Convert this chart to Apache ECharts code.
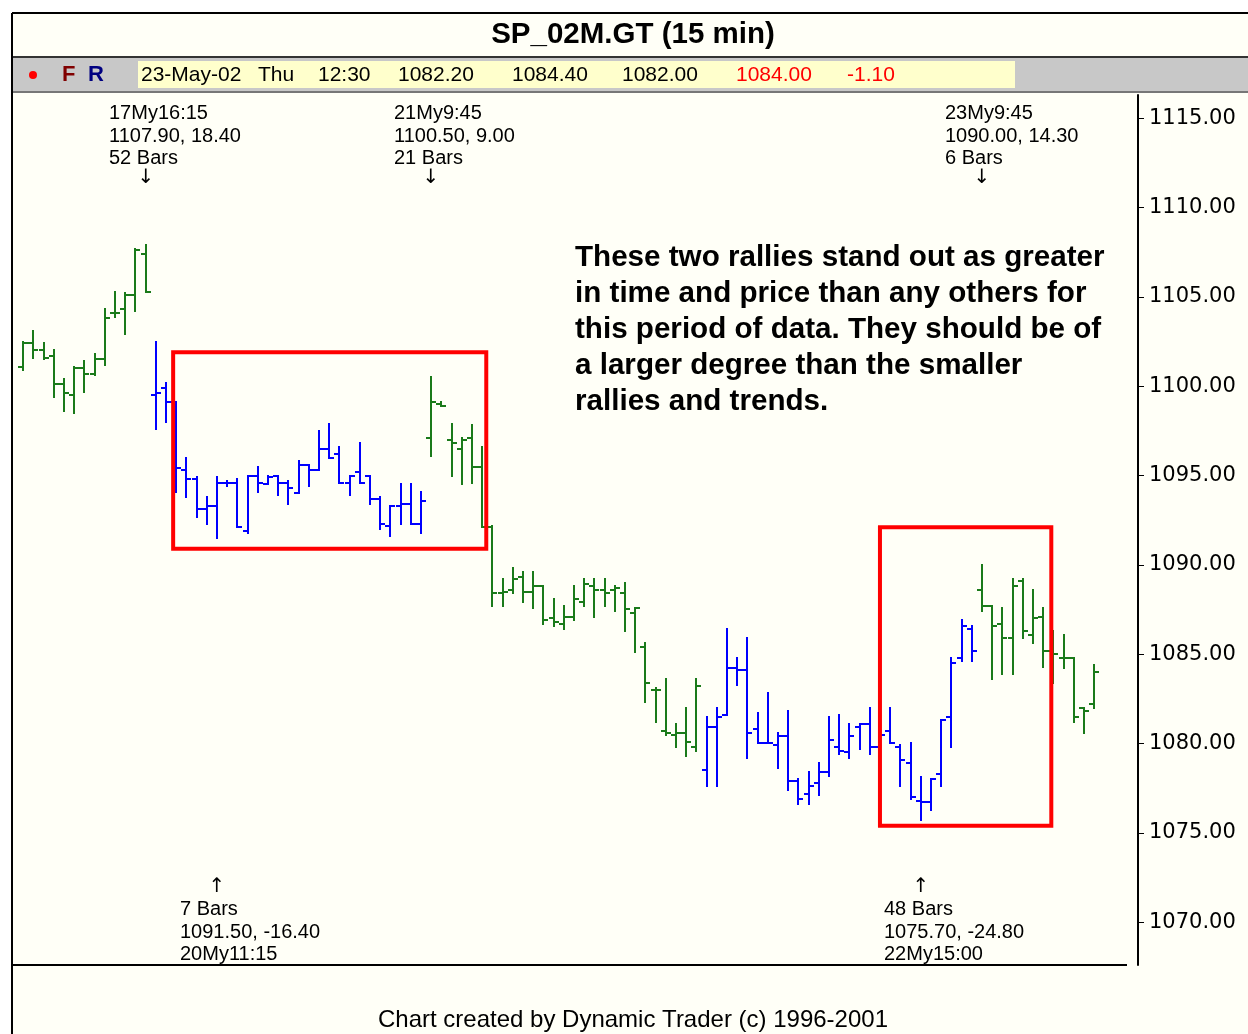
<!DOCTYPE html>
<html lang="en">
<head>
	<meta charset="UTF-8">
	<title>SP_02M.GT (15 min)</title>
	<script src="https://cdn.jsdelivr.net/npm/echarts@6/dist/echarts.min.js"></script>
</head>
<style>
	html, body{ margin: 0; padding: 0; background: #fff; }
	#main{ width: 1248px; height: 1034px; }
</style>
<body>
	<div id="main"></div>
	<script>
		// 15 min bars, 17My 13:00 .. 23My 12:30
		var opens = [
			1101.1, 1102.4, 1102.0, 1101.7, 1100.1, 1099.5, 1101.0, 1100.7, 1101.5, 1104.1, 1104.3, 1105.1, 1107.4,
			1099.5, 1099.9, 1099.1, 1095.3, 1094.8, 1093.1, 1093.3, 1094.6, 1094.6, 1091.9, 1095.0, 1094.5, 1095.0, 1094.6,
			1094.0, 1095.6, 1095.3, 1096.5, 1096.2, 1094.6, 1095.2, 1095.0, 1093.7, 1092.2, 1093.3, 1093.4, 1092.3,
			1097.1, 1099.0, 1097.0, 1096.5, 1097.1, 1095.5, 1092.1, 1088.4, 1088.6, 1089.3, 1088.5, 1088.8, 1087.0, 1086.7,
			1087.1, 1087.9, 1088.8, 1088.6, 1088.6, 1088.4, 1087.3, 1085.4, 1083.0, 1080.7, 1080.5, 1080.6, 1079.8,
			1078.5, 1080.9, 1081.6, 1084.2, 1084.1, 1080.8, 1080.0, 1079.9, 1080.4, 1077.9, 1077.2, 1077.8, 1078.4, 1079.8,
			1079.5, 1080.9, 1081.1, 1079.8, 1080.7, 1079.8, 1078.9, 1076.8, 1076.7, 1078.3, 1081.5, 1084.8, 1086.4,
			1088.6, 1087.7, 1086.7, 1085.9, 1089.1, 1086.1, 1087.1, 1085.2, 1084.8, 1084.8, 1082.0, 1082.2
		];
		var highs = [
			1102.5, 1103.1, 1102.4, 1102.0, 1100.4, 1101.1, 1101.4, 1101.8, 1104.3, 1105.3, 1105.2, 1107.7, 1107.9,
			1102.5, 1100.2, 1099.1, 1096.0, 1094.9, 1093.8, 1094.9, 1094.7, 1094.8, 1095.0, 1095.5, 1095.0, 1095.0, 1094.7,
			1095.8, 1095.6, 1097.5, 1097.9, 1096.6, 1095.0, 1096.8, 1095.0, 1093.8, 1093.3, 1094.5, 1094.5, 1094.1,
			1100.5, 1099.1, 1097.9, 1097.1, 1097.8, 1096.6, 1092.2, 1089.2, 1089.8, 1089.6, 1089.6, 1088.8, 1088.1, 1087.7,
			1088.8, 1089.2, 1089.2, 1089.2, 1088.8, 1089.0, 1087.6, 1085.6, 1083.1, 1083.6, 1081.1, 1082.0, 1083.6,
			1081.5, 1082.0, 1086.4, 1084.8, 1085.9, 1081.7, 1082.8, 1080.6, 1081.8, 1078.0, 1078.4, 1078.9, 1081.5, 1081.6,
			1081.1, 1081.1, 1082.0, 1081.0, 1082.0, 1079.9, 1080.0, 1078.1, 1078.0, 1081.3, 1084.8, 1086.9, 1086.6,
			1090.0, 1087.7, 1087.6, 1089.2, 1089.2, 1088.6, 1087.6, 1086.3, 1086.1, 1084.8, 1082.0, 1084.4
		];
		var lows = [
			1100.9, 1101.6, 1101.5, 1099.4, 1098.6, 1098.5, 1099.7, 1100.6, 1101.2, 1103.9, 1102.9, 1104.2, 1105.3,
			1097.6, 1098.0, 1094.1, 1093.8, 1092.7, 1092.3, 1091.5, 1094.4, 1092.1, 1091.8, 1094.1, 1094.5, 1093.9, 1093.4,
			1094.0, 1094.4, 1095.3, 1096.0, 1094.6, 1093.9, 1094.6, 1093.4, 1092.0, 1091.6, 1092.3, 1092.3, 1091.8,
			1096.1, 1098.9, 1095.0, 1094.5, 1094.6, 1092.1, 1087.7, 1087.7, 1088.4, 1087.9, 1087.6, 1086.7, 1086.6, 1086.4,
			1086.9, 1087.7, 1087.1, 1087.7, 1087.4, 1086.3, 1085.1, 1082.3, 1081.2, 1080.5, 1079.8, 1079.3, 1079.6,
			1077.6, 1077.6, 1081.6, 1083.3, 1079.2, 1080.0, 1080.0, 1078.6, 1077.4, 1076.6, 1076.6, 1077.1, 1078.2, 1079.4,
			1079.2, 1079.7, 1079.4, 1079.1, 1080.0, 1077.6, 1076.9, 1075.7, 1076.3, 1077.6, 1079.8, 1084.6, 1084.6,
			1087.4, 1083.6, 1083.9, 1083.9, 1085.9, 1085.6, 1084.3, 1083.4, 1084.2, 1081.2, 1080.6, 1082.0
		];
		var closes = [
			1102.4, 1102.0, 1101.6, 1100.1, 1099.6, 1101.0, 1100.7, 1101.5, 1103.8, 1104.1, 1105.1, 1107.6, 1105.3,
			1099.6, 1099.1, 1095.4, 1094.8, 1093.1, 1093.3, 1094.6, 1094.6, 1092.1, 1095.0, 1094.6, 1094.9, 1094.6, 1094.3,
			1095.6, 1095.3, 1096.5, 1096.0, 1094.6, 1095.0, 1094.6, 1093.7, 1092.3, 1093.3, 1093.4, 1092.3, 1093.6,
			1099.1, 1098.9, 1096.8, 1097.0, 1095.5, 1092.1, 1088.4, 1088.5, 1089.2, 1088.5, 1088.8, 1086.9, 1086.8, 1087.1,
			1088.1, 1088.9, 1088.6, 1088.4, 1088.7, 1087.5, 1087.6, 1083.4, 1083.0, 1080.6, 1080.6, 1080.1, 1083.2,
			1080.9, 1081.5, 1084.2, 1084.1, 1080.6, 1080.0, 1080.0, 1080.4, 1077.9, 1076.9, 1077.6, 1078.4, 1080.2, 1079.6,
			1080.4, 1081.1, 1079.8, 1080.5, 1080.0, 1079.1, 1077.0, 1076.7, 1078.0, 1081.3, 1084.5, 1086.6, 1085.2,
			1087.7, 1086.6, 1085.9, 1088.8, 1086.3, 1087.0, 1085.2, 1085.0, 1084.8, 1081.5, 1081.8, 1084.0
		];
		// last bar index of each session: 17My, 20My, 21My, 22My, 23My
		var dayEnds = [12, 39, 66, 93, 105];
		var dayColors = ['#1a7a1a', '#0000ff', '#1a7a1a', '#0000ff', '#1a7a1a'];

		var yTicks = [1070, 1075, 1080, 1085, 1090, 1095, 1100, 1105, 1110, 1115];

		// swing pivots: bar index, side, text lines
		var swings = [
			{ bar: 12, side: 'top', lines: ['17My16:15', '1107.90, 18.40', '52 Bars'] },
			{ bar: 40, side: 'top', lines: ['21My9:45', '1100.50, 9.00', '21 Bars'] },
			{ bar: 94, side: 'top', lines: ['23My9:45', '1090.00, 14.30', '6 Bars'] },
			{ bar: 19, side: 'bottom', lines: ['7 Bars', '1091.50, -16.40', '20My11:15'] },
			{ bar: 88, side: 'bottom', lines: ['48 Bars', '1075.70, -24.80', '22My15:00'] }
		];
		// highlighted rallies: [bar from, price top, bar to, price bottom]
		var boxes = [
			[14.7, 1101.9, 45.4, 1090.9],
			[84.0, 1092.1, 100.8, 1075.4]
		];
		var note = [
			'These two rallies stand out as greater',
			'in time and price than any others for',
			'this period of data. They should be of',
			'a larger degree than the smaller',
			'rallies and trends.'
		];

		var FONT = '"Liberation Sans", Arial, sans-serif';

		function dayColor(i) {
			for (var d = 0; d < dayEnds.length; d++) {
				if (i <= dayEnds[d]) return dayColors[d];
			}
			return dayColors[dayColors.length - 1];
		}

		var bars = opens.map(function (o, i) {
			return [i, o, highs[i], lows[i], closes[i]];
		});

		function renderOhlc(params, api) {
			var i = api.value(0);
			var pO = api.coord([i, api.value(1)]);
			var pH = api.coord([i, api.value(2)]);
			var pL = api.coord([i, api.value(3)]);
			var pC = api.coord([i, api.value(4)]);
			var x = Math.round(pH[0]);
			var yo = Math.round(pO[1]), yc = Math.round(pC[1]);
			var st = { stroke: dayColor(i), lineWidth: 2 };
			return {
				type: 'group',
				children: [
					{ type: 'line', shape: { x1: x, y1: Math.round(pH[1]) - 1, x2: x, y2: Math.round(pL[1]) + 1 }, style: st },
					{ type: 'line', shape: { x1: x - 5, y1: yo, x2: x, y2: yo }, style: st },
					{ type: 'line', shape: { x1: x, y1: yc, x2: x + 5, y2: yc }, style: st }
				]
			};
		}

		function renderBox(params, api) {
			var a = api.coord([api.value(0), api.value(1)]);
			var b = api.coord([api.value(2), api.value(3)]);
			return {
				type: 'rect',
				shape: { x: a[0], y: a[1], width: b[0] - a[0], height: b[1] - a[1] },
				style: { fill: null, stroke: '#ff0000', lineWidth: 4 }
			};
		}

		function renderSwing(params, api) {
			var s = swings[params.dataIndex];
			var x = Math.round(api.coord([s.bar, 1090])[0]);
			var kids = [];
			var textY = s.side === 'top' ? [113, 136, 158] : [909, 932, 954];
			var arrowY = s.side === 'top' ? 178 : 887;
			s.lines.forEach(function (t, k) {
				kids.push({
					type: 'text', x: x - 37, y: textY[k],
					style: { text: t, font: '20px ' + FONT, fill: '#000', verticalAlign: 'middle' }
				});
			});
			kids.push({
				type: 'text', x: x, y: arrowY,
				style: { text: s.side === 'top' ? '\u2193' : '\u2191', font: '20px "DejaVu Sans"', fill: '#000', align: 'center', verticalAlign: 'middle' }
			});
			return { type: 'group', children: kids };
		}

		var graphics = [
			{ type: 'rect', shape: { x: 12, y: 13, width: 1236, height: 1021 }, style: { fill: '#fffff7' } },
			{ type: 'rect', shape: { x: 13, y: 58, width: 1235, height: 33 }, style: { fill: '#c8c8c8' } },
			{ type: 'rect', shape: { x: 138, y: 61, width: 877, height: 27 }, style: { fill: '#ffffcc' } },
			{ type: 'line', shape: { x1: 12, y1: 57, x2: 1248, y2: 57 }, style: { stroke: '#333', lineWidth: 2 } },
			{ type: 'line', shape: { x1: 12, y1: 92, x2: 1248, y2: 92 }, style: { stroke: '#777', lineWidth: 2 } },
			{ type: 'line', shape: { x1: 12, y1: 13, x2: 1248, y2: 13 }, style: { stroke: '#000', lineWidth: 2 } },
			{ type: 'line', shape: { x1: 12, y1: 13, x2: 12, y2: 1034 }, style: { stroke: '#000', lineWidth: 2 } },
			{ type: 'line', shape: { x1: 12, y1: 965, x2: 1127, y2: 965 }, style: { stroke: '#000', lineWidth: 2 } },
			{ type: 'text', x: 633, y: 35, style: { text: 'SP_02M.GT (15 min)', font: 'bold 29.5px ' + FONT, fill: '#000', align: 'center', verticalAlign: 'middle' } },
			{ type: 'circle', shape: { cx: 33, cy: 75, r: 4 }, style: { fill: '#ff0000' } },
			{ type: 'text', x: 62, y: 75, style: { text: 'F', font: 'bold 22px ' + FONT, fill: '#800000', verticalAlign: 'middle' } },
			{ type: 'text', x: 88, y: 75, style: { text: 'R', font: 'bold 22px ' + FONT, fill: '#000080', verticalAlign: 'middle' } },
			{ type: 'text', x: 141, y: 75, style: { text: '23-May-02', font: '21px ' + FONT, fill: '#000', verticalAlign: 'middle' } },
			{ type: 'text', x: 258, y: 75, style: { text: 'Thu', font: '21px ' + FONT, fill: '#000', verticalAlign: 'middle' } },
			{ type: 'text', x: 318, y: 75, style: { text: '12:30', font: '21px ' + FONT, fill: '#000', verticalAlign: 'middle' } },
			{ type: 'text', x: 398, y: 75, style: { text: '1082.20', font: '21px ' + FONT, fill: '#000', verticalAlign: 'middle' } },
			{ type: 'text', x: 512, y: 75, style: { text: '1084.40', font: '21px ' + FONT, fill: '#000', verticalAlign: 'middle' } },
			{ type: 'text', x: 622, y: 75, style: { text: '1082.00', font: '21px ' + FONT, fill: '#000', verticalAlign: 'middle' } },
			{ type: 'text', x: 736, y: 75, style: { text: '1084.00', font: '21px ' + FONT, fill: '#ff0000', verticalAlign: 'middle' } },
			{ type: 'text', x: 847, y: 75, style: { text: '-1.10', font: '21px ' + FONT, fill: '#ff0000', verticalAlign: 'middle' } },
			{ type: 'text', x: 633, y: 1020, style: { text: 'Chart created by Dynamic Trader (c) 1996-2001', font: '24px ' + FONT, fill: '#000', align: 'center', verticalAlign: 'middle' } }
		];
		note.forEach(function (t, k) {
			graphics.push({
				type: 'text', x: 575, y: 258 + k * 36,
				style: { text: t, font: 'bold 29.6px ' + FONT, fill: '#000', verticalAlign: 'middle' }
			});
		});

		var myChart = echarts.init(document.getElementById('main'));
		var option = {
			backgroundColor: '#ffffff',
			animation: false,
			grid: { left: 12, right: 110, top: 95, bottom: 69 },
			xAxis: { type: 'value', min: -1.1, max: 109.3, show: false },
			yAxis: {
				type: 'value',
				position: 'right',
				min: 1067.6,
				max: 1116.3,
				splitLine: { show: false },
				axisLine: { show: true, onZero: false, lineStyle: { color: '#000', width: 2 } },
				axisTick: { show: true, inside: false, length: 6, customValues: yTicks, lineStyle: { color: '#000', width: 1 } },
				axisLabel: {
					customValues: yTicks,
					margin: 11,
					color: '#000',
					fontFamily: 'DejaVu Sans',
					fontSize: 21,
					formatter: function (v) { return v.toFixed(2); }
				}
			},
			graphic: { elements: graphics },
			series: [
				{
					name: 'SP_02M.GT',
					type: 'custom',
					renderItem: renderOhlc,
					data: bars,
					encode: { x: 0, y: [1, 2, 3, 4] },
					z: 2
				},
				{
					name: 'rallies',
					type: 'custom',
					renderItem: renderBox,
					data: boxes,
					encode: { x: [0, 2], y: [1, 3] },
					z: 3
				},
				{
					name: 'swings',
					type: 'custom',
					renderItem: renderSwing,
					data: swings.map(function (s) { return [s.bar, 1090]; }),
					encode: { x: 0, y: 1 },
					z: 4
				}
			]
		};
		myChart.setOption(option);
	</script>
</body>
</html>
